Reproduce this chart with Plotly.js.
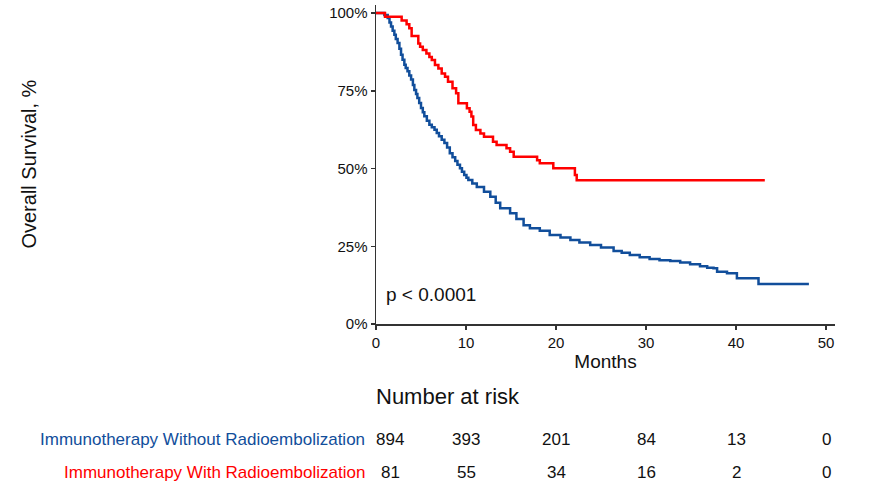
<!DOCTYPE html>
<html>
<head>
<meta charset="utf-8">
<script src="https://cdn.plot.ly/plotly-3.0.1.min.js"></script>
<style>html,body{margin:0;padding:0;background:#fff;}#chart{width:872px;height:489px;}</style>
</head>
<body>
<div id="chart"></div>
<script>
// Immunotherapy Without Radioembolization (blue) - KM steps
const blueTime = [0,0.93,1.3,1.5,1.67,1.85,2.04,2.2,2.4,2.6,2.78,2.95,3.15,3.3,3.5,3.7,3.9,4.1,4.26,4.45,4.6,4.8,5.0,5.2,5.37,5.65,5.93,6.2,6.5,6.75,7.0,7.3,7.6,7.9,8.2,8.5,8.8,9.05,9.33,9.55,9.8,10.05,10.26,10.7,11.2,12.0,12.7,13.3,13.8,14.9,15.6,16.4,17.1,18.2,19.3,20.5,21.6,22.6,23.8,25.0,26.4,27.3,28.2,29.3,30.4,31.5,32.7,33.8,34.9,36.0,36.8,37.5,37.9,39.0,40.1,42.5,48.1];
const blueSurv = [100,99.4,98.4,97.0,95.7,94.3,93.0,91.7,90.4,88.5,86.6,85.0,83.4,82.3,81.3,79.9,78.6,76.9,75.3,74.0,72.7,71.1,69.5,68.1,66.8,65.4,64.1,63.3,62.5,61.4,60.4,59.3,58.2,56.8,54.9,53.6,52.4,51.2,50.1,49.0,47.9,47.0,46.3,45.2,44.1,42.5,40.9,39.0,37.2,35.6,33.8,31.8,30.8,30.0,28.6,27.8,27.0,26.2,25.4,24.6,23.5,22.9,22.2,21.5,20.9,20.5,20.3,19.8,19.2,18.6,18.1,17.9,16.8,16.3,14.7,12.9,12.9];
// Immunotherapy With Radioembolization (red)
const redTime = [0,1.0,2.85,3.4,3.7,3.96,4.7,4.9,5.2,5.6,5.93,6.2,6.55,6.93,7.3,7.67,8.0,8.5,8.9,9.15,10.1,10.4,10.6,10.8,11.1,11.6,12.0,13.0,13.4,14.5,14.9,15.3,17.9,18.2,19.7,22.1,22.3,43.2];
const redSurv = [100,98.8,97.6,96.4,95.1,92.6,90.2,89.2,88.1,87.0,85.9,84.9,83.3,82.2,80.6,79.5,77.9,75.8,74.2,71.0,69.4,68.3,66.7,64.0,62.4,61.3,60.2,58.6,57.6,56.5,55.4,53.8,52.7,51.7,50.1,47.9,46.2,46.2];

const groupNames = ["Immunotherapy Without Radioembolization","Immunotherapy With Radioembolization"];
const groupColors = ["#114E9B","#FF0000"];
const riskTimes = [0,10,20,30,40,50];
const riskBlue = [894,393,201,84,13,0];
const riskRed = [81,55,34,16,2,0];
const yTicks = [0,25,50,75,100];
const xTicks = [0,10,20,30,40,50];

const traces = [
  {x: blueTime, y: blueSurv, type:'scatter', mode:'lines', line:{shape:'hv', color:groupColors[0], width:2.5}, name:groupNames[0], hoverinfo:'skip'},
  {x: redTime, y: redSurv, type:'scatter', mode:'lines', line:{shape:'hv', color:groupColors[1], width:2.5}, name:groupNames[1], hoverinfo:'skip'}
];

const font = "Liberation Sans, Arial, sans-serif";
const ann = [];
// y axis title
ann.push({text:'Overall Survival, %', xref:'paper', yref:'paper', x:-0.758, y:0.5, textangle:-90, showarrow:false, xanchor:'center', yanchor:'middle', font:{family:font, size:20, color:'#111'}});
// p value
ann.push({text:'p < 0.0001', xref:'x', yref:'y', x:0.9, y:9.6, showarrow:false, xanchor:'left', yanchor:'middle', font:{family:font, size:19, color:'#111'}});
// Number at risk header
ann.push({text:'Number at risk', xref:'paper', yref:'paper', x:-0.004, y:-0.228, showarrow:false, xanchor:'left', yanchor:'middle', font:{family:font, size:22, color:'#111'}});
const rowY = [-0.3636, -0.467];
const rows = [riskBlue, riskRed];
for (let r=0; r<2; r++) {
  ann.push({text:groupNames[r], xref:'paper', yref:'paper', x:-0.0196, y:rowY[r], showarrow:false, xanchor:'right', yanchor:'middle', font:{family:font, size:17, color:groupColors[r]}});
  for (let i=0;i<riskTimes.length;i++) {
    ann.push({text:String(rows[r][i]), xref:'x', yref:'paper', x:riskTimes[i], xshift: i===0 ? 14 : 0, y:rowY[r], showarrow:false, xanchor:'center', yanchor:'middle', font:{family:font, size:17, color:'#111'}});
  }
}

const layout = {
  width:872, height:489,
  margin:{l:376, r:37, t:5, b:165, pad:0},
  paper_bgcolor:'#fff', plot_bgcolor:'#fff',
  showlegend:false,
  font:{family:font, color:'#111'},
  xaxis:{range:[0,51], tickvals:xTicks, ticktext:xTicks.map(String), showgrid:false, zeroline:false, showline:true, linecolor:'#333', linewidth:1.5, ticks:'outside', ticklen:4, tickwidth:1.5, tickcolor:'#333', tickfont:{family:font, size:15, color:'#111'}, title:{text:'Months', font:{family:font, size:19, color:'#111'}, standoff:5}},
  yaxis:{range:[0,102.6], tickvals:yTicks, ticktext:yTicks.map(v=>v+'%'), showgrid:false, zeroline:false, showline:true, linecolor:'#333', linewidth:1.5, ticks:'outside', ticklen:4, tickwidth:1.5, tickcolor:'#333', tickfont:{family:font, size:15, color:'#111'}},
  annotations: ann
};
Plotly.newPlot('chart', traces, layout, {displayModeBar:false, staticPlot:true});
</script>
</body>
</html>
